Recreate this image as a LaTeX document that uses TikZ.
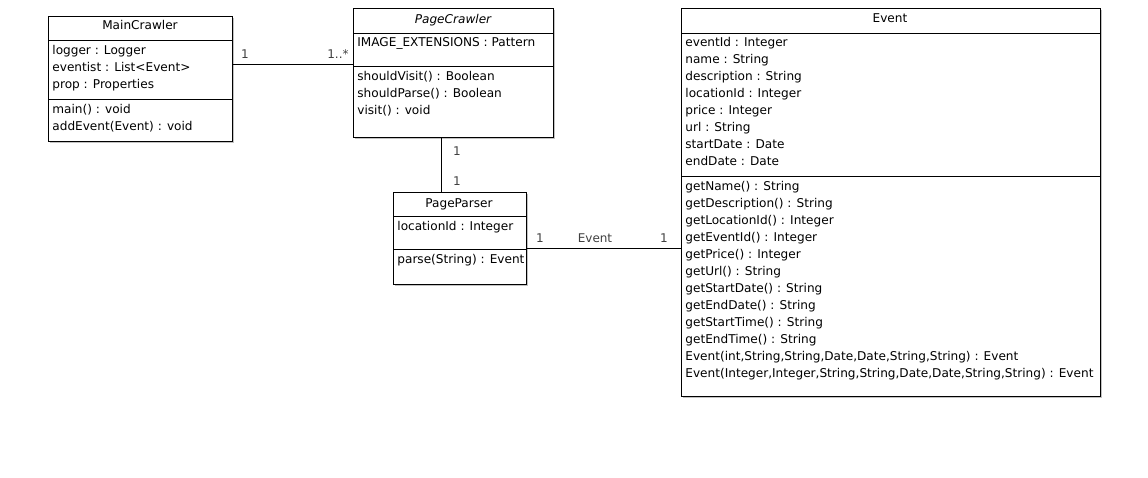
\documentclass[tikz,border=0pt]{standalone}
\usepackage{fontspec}
\setmainfont{DejaVu Sans}
\usetikzlibrary{shadows}
\tikzset{
  classbox/.style={draw, line width=0.8pt, fill=white, anchor=north west, inner sep=0pt,
    drop shadow={shadow xshift=1.2pt, shadow yshift=-1.2pt, fill=black!40, opacity=0.6}},
  member/.style={anchor=west, inner sep=0pt, text height=9pt, text depth=3pt, yshift=-1.5pt,
    font=\fontsize{12.1}{14}\selectfont},
  title/.style={inner sep=0pt, text height=9pt, text depth=3pt, yshift=-1.5pt,
    font=\fontsize{12.1}{14}\selectfont},
  mult/.style={inner sep=0pt, text height=9pt, text depth=3pt, yshift=-1pt, text=black!75,
    font=\fontsize{12}{14}\selectfont}
}
\begin{document}
\begin{tikzpicture}[x=1pt, y=-1pt, line width=0.8pt]
\useasboundingbox (0,0) rectangle (1148,478);
% MainCrawler
\node[classbox, minimum width=184pt, minimum height=125pt](mc) at(48,16){};
\draw (48,40)--(232,40);
\draw (48,99)--(232,99);
\node[title](mct) at(140,25){MainCrawler};
\node[member](mc1) at(52,50){logger : Logger};
\node[member](mc2) at(52,67){eventist : List<Event>};
\node[member](mc3) at(52,84){prop : Properties};
\node[member](mc4) at(52,109){main() : void};
\node[member](mc5) at(52,126){addEvent(Event) : void};
% PageCrawler
\node[classbox, minimum width=200pt, minimum height=129pt](pc) at(353,8){};
\draw (353,33)--(553,33);
\draw (353,66)--(553,66);
\node[title](pct) at(453,19){\itshape PageCrawler};
\node[member](pc1) at(357,42){IMAGE\_EXTENSIONS : Pattern};
\node[member](pc2) at(357,76){shouldVisit() : Boolean};
\node[member](pc3) at(357,93){shouldParse() : Boolean};
\node[member](pc4) at(357,110){visit() : void};
% PageParser
\node[classbox, minimum width=133pt, minimum height=92pt](pp) at(393,192){};
\draw (393,216)--(526,216);
\draw (393,249)--(526,249);
\node[title](ppt) at(459,203){PageParser};
\node[member](pp1) at(397,226){locationId : Integer};
\node[member](pp2) at(397,259){parse(String) : Event};
% Event
\node[classbox, minimum width=419pt, minimum height=388pt](ev) at(681,8){};
\draw (681,33)--(1100,33);
\draw (681,176)--(1100,176);
\node[title](evt) at(890,18){Event};
\node[member](ev1) at(685,42){eventId : Integer};
\node[member](ev2) at(685,59){name : String};
\node[member](ev3) at(685,76){description : String};
\node[member](ev4) at(685,93){locationId : Integer};
\node[member](ev5) at(685,110){price : Integer};
\node[member](ev6) at(685,127){url : String};
\node[member](ev7) at(685,144){startDate : Date};
\node[member](ev8) at(685,161){endDate : Date};
\node[member](ev9) at(685,186){getName() : String};
\node[member](ev10) at(685,203){getDescription() : String};
\node[member](ev11) at(685,220){getLocationId() : Integer};
\node[member](ev12) at(685,237){getEventId() : Integer};
\node[member](ev13) at(685,254){getPrice() : Integer};
\node[member](ev14) at(685,271){getUrl() : String};
\node[member](ev15) at(685,288){getStartDate() : String};
\node[member](ev16) at(685,305){getEndDate() : String};
\node[member](ev17) at(685,322){getStartTime() : String};
\node[member](ev18) at(685,339){getEndTime() : String};
\node[member](ev19) at(685,356){Event(int,String,String,Date,Date,String,String) : Event};
\node[member](ev20) at(685,373){Event(Integer,Integer,String,String,Date,Date,String,String) : Event};
% associations
\draw (mc.east |- 0,64)--(pc.west |- 0,64);
\node[mult](m1) at(245,55){1};
\node[mult, anchor=east](m2) at(349,55){1..*};
\draw (441,0 |- pc.south)--(441,0 |- pp.north);
\node[mult](m3) at(457,152){1};
\node[mult](m4) at(457,182){1};
\draw (pp.east |- 0,248)--(ev.west |- 0,248);
\node[mult](m5) at(540,239){1};
\node[mult](m6) at(595,239){Event};
\node[mult](m7) at(664,239){1};
\end{tikzpicture}
\end{document}
